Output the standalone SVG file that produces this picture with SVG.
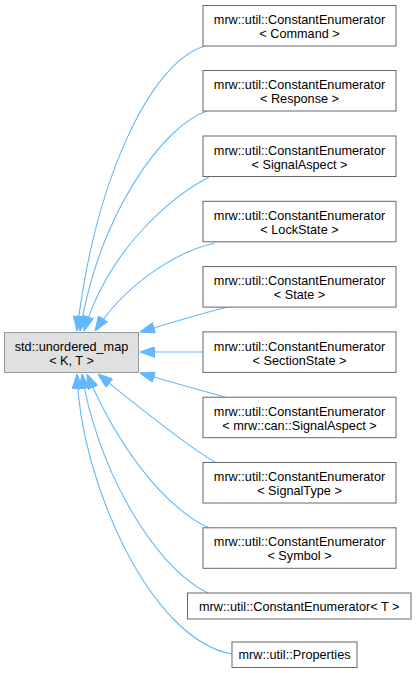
<svg xmlns="http://www.w3.org/2000/svg" width="416" height="673" viewBox="0 0 416 673">
<style>
.n rect{fill:#ffffff;stroke:#666666;stroke-width:1}
.b rect{fill:#e0e0e0;stroke:#999999;stroke-width:1}
text{font-family:"Liberation Sans",Arial,sans-serif;font-size:12.7px;fill:#000;text-anchor:middle}
.e path{fill:none;stroke:#63b8ff;stroke-width:1.1;marker-end:url(#ah)}
</style>
<defs>
<marker id="ah" markerUnits="userSpaceOnUse" markerWidth="15" markerHeight="11" refX="15" refY="5.5" orient="auto" viewBox="0 0 15 11">
<path d="M0,0 L15,5.5 L0,11 z" fill="#63b8ff" stroke="#63b8ff" stroke-width="1"/>
</marker>
</defs>
<g id="edges" class="e">
<path d="M205,46 C150,62 95,180 77,331"/>
<path d="M207,111 C165,125 100,210 80,331"/>
<path d="M209,177 C175,195 110,245 84,331"/>
<path d="M215,243 C175,252 125,285 95,331"/>
<path d="M227,307 C200,314 170,323 140,332"/>
<path d="M203,352 L140,352"/>
<path d="M225,397 C200,390 170,382 140,373"/>
<path d="M215,462 C185,445 130,400 98,374"/>
<path d="M209,528 C160,505 115,440 87,374"/>
<path d="M208,593 C150,565 95,460 82,374"/>
<path d="M232,654 C150,640 80,480 77,374"/>
</g>
<g id="base" class="b">
<rect x="4.5" y="332.5" width="134" height="40"/>
<text x="71.5" y="351">std::unordered_map</text>
<text x="71.5" y="365">&lt; K, T &gt;</text>
</g>
<g id="n_command" class="n">
<rect x="203" y="5.5" width="193" height="40.5"/>
<text x="299.5" y="24">mrw::util::ConstantEnumerator</text>
<text x="299.5" y="38">&lt; Command &gt;</text>
</g>
<g id="n_response" class="n">
<rect x="203" y="70.5" width="193" height="40.5"/>
<text x="299.5" y="89.3">mrw::util::ConstantEnumerator</text>
<text x="299.5" y="103.3">&lt; Response &gt;</text>
</g>
<g id="n_signalaspect" class="n">
<rect x="203" y="136" width="193" height="40.5"/>
<text x="299.5" y="154.6">mrw::util::ConstantEnumerator</text>
<text x="299.5" y="168.6">&lt; SignalAspect &gt;</text>
</g>
<g id="n_lockstate" class="n">
<rect x="203" y="201.3" width="193" height="40.5"/>
<text x="299.5" y="219.9">mrw::util::ConstantEnumerator</text>
<text x="299.5" y="233.9">&lt; LockState &gt;</text>
</g>
<g id="n_state" class="n">
<rect x="203" y="266.6" width="193" height="40.5"/>
<text x="299.5" y="285.2">mrw::util::ConstantEnumerator</text>
<text x="299.5" y="299.2">&lt; State &gt;</text>
</g>
<g id="n_sectionstate" class="n">
<rect x="203" y="331.9" width="193" height="40.5"/>
<text x="299.5" y="350.5">mrw::util::ConstantEnumerator</text>
<text x="299.5" y="364.5">&lt; SectionState &gt;</text>
</g>
<g id="n_cansignalaspect" class="n">
<rect x="203" y="397.2" width="193" height="40.5"/>
<text x="299.5" y="415.8">mrw::util::ConstantEnumerator</text>
<text x="299.5" y="429.8">&lt; mrw::can::SignalAspect &gt;</text>
</g>
<g id="n_signaltype" class="n">
<rect x="203" y="462.5" width="193" height="40.5"/>
<text x="299.5" y="481.1">mrw::util::ConstantEnumerator</text>
<text x="299.5" y="495.1">&lt; SignalType &gt;</text>
</g>
<g id="n_symbol" class="n">
<rect x="203" y="527.8" width="193" height="40.5"/>
<text x="299.5" y="546.4">mrw::util::ConstantEnumerator</text>
<text x="299.5" y="560.4">&lt; Symbol &gt;</text>
</g>
<g id="n_t" class="n">
<rect x="187.5" y="593" width="223.5" height="26"/>
<text x="299.2" y="610.5">mrw::util::ConstantEnumerator&lt; T &gt;</text>
</g>
<g id="n_properties" class="n">
<rect x="232" y="642" width="125" height="25.5"/>
<text x="294.5" y="659.2">mrw::util::Properties</text>
</g>
</svg>
